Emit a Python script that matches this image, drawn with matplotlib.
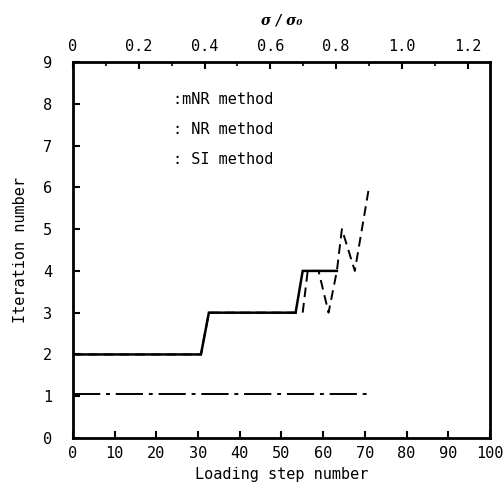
import matplotlib
matplotlib.use("Agg")
import matplotlib.pyplot as plt
from matplotlib.ticker import MultipleLocator

# data
mnr_x = [0, 30.7, 32.6, 53.4, 55.1, 63.3]
mnr_y = [2, 2, 3, 3, 4, 4]
nr_x = [0, 30.7, 32.6, 55.1, 56.3, 58.9, 61.3, 63.3, 64.5, 67.6, 71.0]
nr_y = [2, 2, 3, 3, 4, 4, 3, 4, 5, 4, 6]
si_x = [0, 71.3]
si_y = [1.05, 1.05]
legend_labels = [":mNR method", ": NR method", ": SI method"]
bottom_ticks = list(range(0, 101, 10))
left_ticks = list(range(0, 10))
top_ticks = [0, 0.2, 0.4, 0.6, 0.8, 1.0, 1.2]
top_labels = ["0", "0.2", "0.4", "0.6", "0.8", "1.0", "1.2"]
steps_per_sigma = 78.9  # loading steps per unit sigma/sigma0

mono = "DejaVu Sans Mono"
plt.rcParams['font.family'] = [mono]

fig = plt.figure(figsize=(5.03, 4.82), dpi=100)
ax = fig.add_axes([0.145, 0.0913, 0.829, 0.78])

ax.plot(mnr_x, mnr_y, color="black", lw=1.8, solid_joinstyle="miter")
ax.plot(nr_x, nr_y, color="black", lw=1.4, dashes=(5, 3))
ax.plot(si_x, si_y, color="black", lw=1.4, dashes=(14, 3, 2, 3))

ax.set_xlim(0, 100)
ax.set_ylim(0, 9)
ax.set_xticks(bottom_ticks)
ax.set_yticks(left_ticks)
ax.tick_params(direction="in", length=5, width=1.5, labelsize=11, top=False, right=False)
ax.tick_params(axis="y", pad=15)
ax.tick_params(axis="x", pad=6)
for s in ax.spines.values():
    s.set_linewidth(2)

ax.set_xlabel("Loading step number", fontsize=11, labelpad=4)
ax.set_ylabel("Iteration number", fontsize=11, labelpad=11)

# top axis sigma/sigma0
sec = ax.secondary_xaxis("top", functions=(lambda x: x / steps_per_sigma, lambda s: s * steps_per_sigma))
sec.set_xticks(top_ticks)
sec.set_xticklabels(top_labels)
sec.xaxis.set_minor_locator(MultipleLocator(0.1))
sec.tick_params(direction="in", length=5, width=1.5, labelsize=11, pad=6)
sec.tick_params(which="minor", direction="in", length=3, width=1.2)
sec.set_xlabel("σ / σ₀", fontsize=10, style="italic", fontweight="bold", labelpad=10,
               family=["DejaVu Serif"])

for i, lab in enumerate(legend_labels):
    ax.text(23.9, 8.1 - 0.72 * i, lab, fontsize=11, va="center", ha="left")

fig.savefig("out.png", dpi=100)
